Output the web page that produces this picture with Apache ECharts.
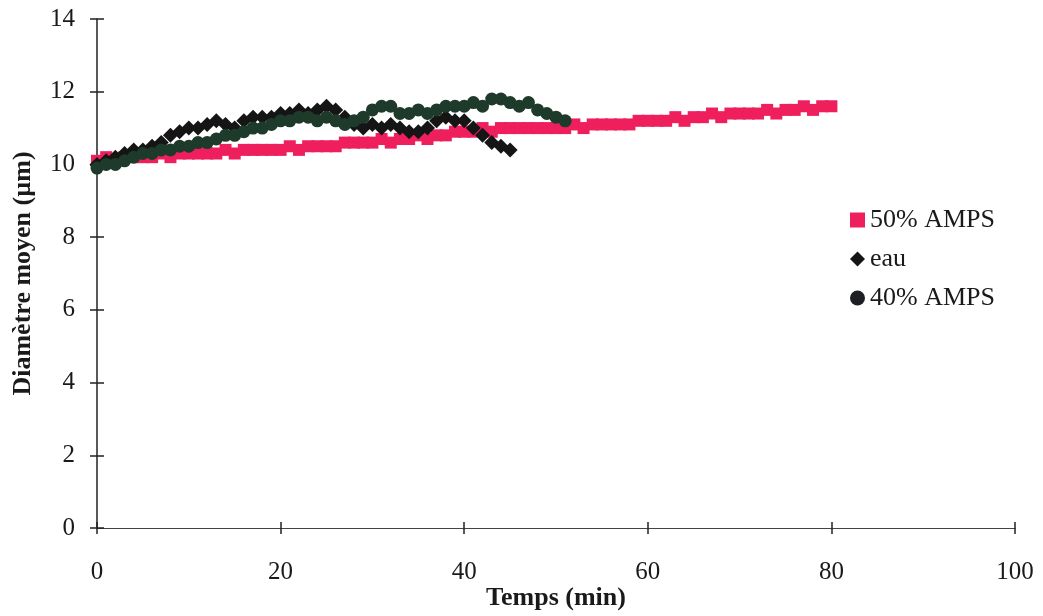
<!DOCTYPE html>
<html>
<head>
<meta charset="utf-8">
<script src="https://cdn.jsdelivr.net/npm/echarts@6/dist/echarts.min.js"></script>
<style>html,body{margin:0;padding:0;background:#fff;}#c{width:1043px;height:616px;}</style>
</head>
<body>
<div id="c"></div>
<script>
const seriesNames = ['50% AMPS', 'eau', '40% AMPS'];
const timeAmps50 = Array.from({length: 81}, (_, i) => i);
const amps50 = [
  10.1,10.2,10.1,10.2,10.2,10.2,10.2,10.3,10.2,10.3,
  10.3,10.3,10.3,10.3,10.4,10.3,10.4,10.4,10.4,10.4,
  10.4,10.5,10.4,10.5,10.5,10.5,10.5,10.6,10.6,10.6,
  10.6,10.7,10.6,10.7,10.7,10.8,10.7,10.8,10.8,10.9,
  10.9,10.9,11.0,10.9,11.0,11.0,11.0,11.0,11.0,11.0,
  11.0,11.0,11.1,11.0,11.1,11.1,11.1,11.1,11.1,11.2,
  11.2,11.2,11.2,11.3,11.2,11.3,11.3,11.4,11.3,11.4,
  11.4,11.4,11.4,11.5,11.4,11.5,11.5,11.6,11.5,11.6,
  11.6
];
const timeEau = Array.from({length: 46}, (_, i) => i);
const eau = [
  10.0,10.1,10.2,10.3,10.4,10.4,10.5,10.6,10.8,10.9,
  11.0,11.0,11.1,11.2,11.1,11.0,11.2,11.3,11.3,11.3,
  11.4,11.4,11.5,11.4,11.5,11.6,11.5,11.3,11.1,11.0,
  11.1,11.0,11.1,11.0,10.9,10.9,11.0,11.2,11.3,11.2,
  11.2,11.0,10.8,10.6,10.5,10.4
];
const timeAmps40 = Array.from({length: 52}, (_, i) => i);
const amps40 = [
  9.9,10.0,10.0,10.1,10.2,10.3,10.3,10.4,10.4,10.5,
  10.5,10.6,10.6,10.7,10.8,10.8,10.9,11.0,11.0,11.1,
  11.2,11.2,11.3,11.3,11.2,11.3,11.2,11.1,11.2,11.3,
  11.5,11.6,11.6,11.4,11.4,11.5,11.4,11.5,11.6,11.6,
  11.6,11.7,11.6,11.8,11.8,11.7,11.6,11.7,11.5,11.4,
  11.3,11.2
];
const xTicks = [0, 20, 40, 60, 80, 100];
const yTicks = [0, 2, 4, 6, 8, 10, 12, 14];

const font = 'Liberation Serif';
const chart = echarts.init(document.getElementById('c'), null, {renderer: 'canvas'});
const zip = (xs, ys) => xs.map((x, i) => [x, ys[i]]);
const baseX = {
  type: 'value', min: xTicks[0], max: xTicks[xTicks.length - 1], interval: 20,
  splitLine: {show: false}, position: 'bottom'
};
const baseY = {
  type: 'value', min: yTicks[0], max: yTicks[yTicks.length - 1], interval: 2,
  splitLine: {show: false}, position: 'left'
};
chart.setOption({
  backgroundColor: '#fff',
  animation: false,
  grid: {left: 97, right: 28, top: 19, bottom: 88, containLabel: false, outerBoundsMode: 'none'},
  legend: {
    orient: 'vertical', left: 845, top: 202, itemGap: 13,
    itemWidth: 15, itemHeight: 15,
    textStyle: {fontFamily: font, fontSize: 26, color: '#1a1a1a'},
    data: [
      {name: seriesNames[0], icon: 'rect'},
      {name: seriesNames[1], icon: 'diamond'},
      {name: seriesNames[2], icon: 'circle', itemStyle: {color: '#1c1f24'}}
    ]
  },
  xAxis: [
    Object.assign({}, baseX, {
      name: 'Temps (min)', nameLocation: 'middle', nameGap: 57, nameMoveOverlap: false,
      nameTextStyle: {fontFamily: font, fontSize: 26, fontWeight: 'bold', color: '#1a1a1a'},
      axisLine: {show: true, lineStyle: {color: '#444', width: 1.2}},
      axisTick: {show: true, inside: false, length: 6, lineStyle: {color: '#222', width: 1.5}},
      axisLabel: {fontFamily: font, fontSize: 25, color: '#1a1a1a', margin: 32}
    }),
    Object.assign({}, baseX, {
      axisLine: {show: false},
      axisTick: {show: true, inside: true, length: 6, lineStyle: {color: '#222', width: 1.5}},
      axisLabel: {show: false}
    })
  ],
  yAxis: [
    Object.assign({}, baseY, {
      name: 'Diamètre moyen (µm)', nameLocation: 'middle', nameGap: 61,
      nameTextStyle: {fontFamily: font, fontSize: 26, fontWeight: 'bold', color: '#1a1a1a'},
      axisLine: {show: true, lineStyle: {color: '#222', width: 1.5}},
      axisTick: {show: true, inside: false, length: 7, lineStyle: {color: '#222', width: 1.5}},
      axisLabel: {fontFamily: font, fontSize: 25, color: '#1a1a1a', margin: 22}
    }),
    Object.assign({}, baseY, {
      axisLine: {show: false},
      axisTick: {show: true, inside: true, length: 7, lineStyle: {color: '#222', width: 1.5}},
      axisLabel: {show: false}
    })
  ],
  series: [
    {
      name: seriesNames[0], type: 'scatter', symbol: 'rect', symbolSize: 12,
      itemStyle: {color: '#ee1f5c', opacity: 1}, data: zip(timeAmps50, amps50)
    },
    {
      name: seriesNames[1], type: 'scatter', symbol: 'diamond', symbolSize: 15,
      itemStyle: {color: '#151515', opacity: 1}, data: zip(timeEau, eau)
    },
    {
      name: seriesNames[2], type: 'scatter', symbol: 'circle', symbolSize: 13,
      itemStyle: {color: '#1d3a2b', opacity: 1}, data: zip(timeAmps40, amps40)
    }
  ]
});
</script>
</body>
</html>
